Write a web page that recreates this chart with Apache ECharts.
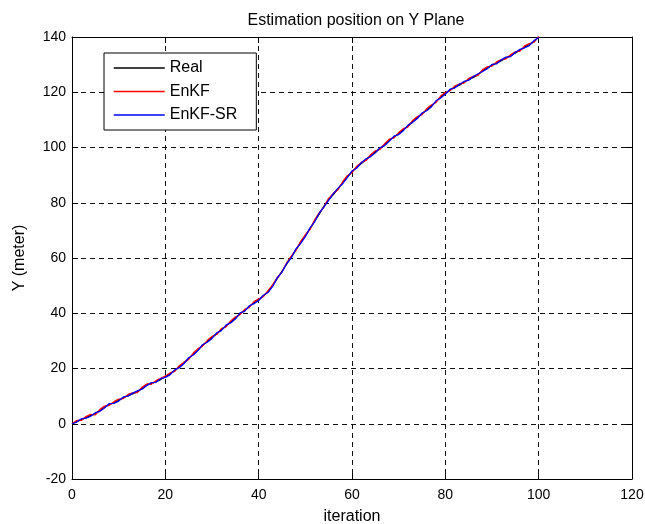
<!DOCTYPE html>
<html>
<head>
<meta charset="utf-8">
<script src="https://cdn.jsdelivr.net/npm/echarts@6/dist/echarts.min.js"></script>
<style>
    html, body { margin: 0; padding: 0; background: #fff; }
    #chart { width: 645px; height: 524px; }
</style>
</head>
<body>
<div id="chart"></div>
<script>
    // values, one per iteration 0..100
    const realY = [
        0, 0.8, 1.5, 2.2, 3.0, 3.6, 4.8, 6.0, 7.0, 7.6,
        8.5, 9.4, 10.2, 10.8, 11.6, 12.8, 14.0, 14.6, 15.2, 16.0,
        17.0, 18.0, 19.2, 20.6, 22.0, 23.6, 25.2, 26.8, 28.4, 29.8,
        31.2, 32.6, 34.0, 35.4, 36.8, 38.2, 39.8, 41.0, 42.4, 43.8,
        44.8, 46.2, 47.8, 50.0, 52.6, 55.2, 57.8, 60.4, 63.0, 65.6,
        68.0, 70.6, 73.4, 76.0, 78.8, 81.2, 83.0, 85.0, 87.2, 89.4,
        91.2, 92.8, 94.2, 95.6, 97.0, 98.4, 99.6, 101.0, 102.6, 103.8,
        105.0, 106.4, 107.8, 109.4, 110.8, 112.2, 113.6, 115.0, 116.6, 118.2,
        119.6, 120.8, 121.8, 122.6, 123.6, 124.6, 125.4, 126.4, 127.8, 128.8,
        129.8, 130.6, 131.4, 132.4, 133.2, 134.2, 135.2, 136.4, 137.2, 138.4,
        140.0
    ]
    const enkfY = [
        0, 1.2, 1.2, 2.6, 3.4, 3.2, 5.2, 6.4, 6.7, 8.0,
        8.9, 9.1, 10.6, 11.2, 11.3, 13.2, 14.4, 14.3, 15.6, 16.4,
        17.3, 18.4, 19.0, 21.0, 22.3, 23.3, 25.6, 27.2, 28.1, 30.2,
        31.6, 32.3, 34.4, 35.1, 37.2, 38.6, 39.5, 41.4, 42.1, 44.2,
        45.2, 46.0, 48.2, 50.3, 53.0, 55.0, 58.2, 60.7, 62.8, 66.0,
        68.4, 70.3, 73.8, 76.4, 78.5, 81.6, 83.4, 84.7, 87.6, 89.8,
        90.9, 93.2, 94.6, 95.3, 97.4, 98.8, 99.3, 101.4, 103.0, 103.5,
        105.4, 106.8, 107.5, 109.8, 111.2, 111.9, 114.0, 115.4, 116.3, 118.6,
        120.0, 120.5, 122.2, 123.0, 123.3, 125.0, 125.8, 126.1, 128.2, 129.2,
        129.5, 131.0, 131.8, 132.1, 133.6, 134.6, 134.9, 136.8, 137.6, 138.1,
        140.2
    ]
    const enkfSrY = [
        0, 0.6, 1.8, 2.0, 2.7, 4.0, 4.5, 5.8, 7.3, 7.4,
        8.2, 9.7, 10.0, 11.1, 11.9, 12.5, 13.8, 14.9, 15.0, 16.3,
        16.8, 17.7, 19.5, 20.3, 21.8, 23.9, 24.9, 26.5, 28.7, 29.5,
        30.9, 32.9, 33.7, 35.7, 36.5, 37.9, 40.1, 40.7, 42.7, 43.5,
        44.6, 46.5, 47.5, 49.7, 52.9, 54.9, 58.0, 60.1, 63.3, 65.3,
        67.7, 70.9, 73.1, 76.3, 78.5, 80.9, 83.3, 85.3, 86.9, 89.1,
        91.5, 92.5, 94.5, 95.9, 96.7, 98.1, 99.9, 100.7, 102.3, 104.1,
        104.7, 106.1, 108.1, 109.1, 110.5, 112.5, 113.3, 114.7, 116.9, 117.9,
        119.3, 121.1, 121.5, 122.9, 123.9, 124.3, 125.7, 126.7, 127.5, 128.5,
        130.1, 130.3, 131.7, 132.7, 132.9, 134.5, 135.5, 136.1, 136.9, 138.7,
        139.8
    ]
    const seriesNames = ['Real', 'EnKF', 'EnKF-SR']
    const seriesColors = ['#000000', '#ff0000', '#0000ff']

    const font = 'Liberation Sans, Arial, sans-serif'
    const chart = echarts.init(document.getElementById('chart'))

    // iteration number is the index in each list
    const toPairs = list => list.map((v, i) => [i, v])
    const allY = [realY, enkfY, enkfSrY]

    const gridLine = { show: true, lineStyle: { color: '#111', type: [5, 4], width: 1 } }
    const tick = { show: true, inside: true, length: 6, lineStyle: { color: '#000' } }
    const axisLine = { show: true, onZero: false, lineStyle: { color: '#000', width: 1 } }

    const option = {
        animation: false,
        backgroundColor: '#fff',
        title: {
            text: 'Estimation position on Y Plane',
            left: 351,
            top: 8,
            textAlign: 'center',
            textStyle: { fontFamily: font, fontSize: 16, fontWeight: 'normal', color: '#000' }
        },
        legend: {
            orient: 'vertical',
            left: 104,
            top: 53,
            data: seriesNames,
            itemWidth: 51,
            itemHeight: 14,
            itemGap: 7.5,
            padding: [7, 19, 7, 9],
            borderColor: '#000',
            borderWidth: 1,
            backgroundColor: '#fff',
            itemStyle: { opacity: 0 },
            lineStyle: { width: 1.5 },
            textStyle: { fontFamily: font, fontSize: 16, color: '#000' }
        },
        grid: {
            left: 72,
            right: 13,
            top: 37,
            bottom: 45,
            containLabel: false,
            outerBoundsMode: 'none'
        },
        xAxis: [
            {
                type: 'value',
                min: 0,
                max: 120,
                interval: 20,
                name: 'iteration',
                nameLocation: 'middle',
                nameGap: 30,
                nameTextStyle: { fontFamily: font, fontSize: 16, color: '#000' },
                axisLine: axisLine,
                axisTick: tick,
                axisLabel: { fontFamily: font, fontSize: 14, color: '#000', margin: 9 },
                splitLine: gridLine
            },
            {
                type: 'value',
                position: 'top',
                min: 0,
                max: 120,
                interval: 20,
                axisLine: axisLine,
                axisTick: tick,
                axisLabel: { show: false },
                splitLine: { show: false }
            }
        ],
        yAxis: [
            {
                type: 'value',
                min: -20,
                max: 140,
                interval: 20,
                name: 'Y (meter)',
                nameLocation: 'middle',
                nameGap: 44,
                nameTextStyle: { fontFamily: font, fontSize: 16, color: '#000' },
                axisLine: axisLine,
                axisTick: tick,
                axisLabel: { fontFamily: font, fontSize: 14, color: '#000', margin: 6 },
                splitLine: gridLine
            },
            {
                type: 'value',
                position: 'right',
                min: -20,
                max: 140,
                interval: 20,
                axisLine: axisLine,
                axisTick: tick,
                axisLabel: { show: false },
                splitLine: { show: false }
            }
        ],
        series: seriesNames.map((name, k) => ({
            name: name,
            type: 'line',
            xAxisIndex: 0,
            yAxisIndex: 0,
            symbol: 'none',
            color: seriesColors[k],
            lineStyle: { color: seriesColors[k], width: 1.3 },
            data: toPairs(allY[k])
        }))
    }

    chart.setOption(option)
</script>
</body>
</html>
